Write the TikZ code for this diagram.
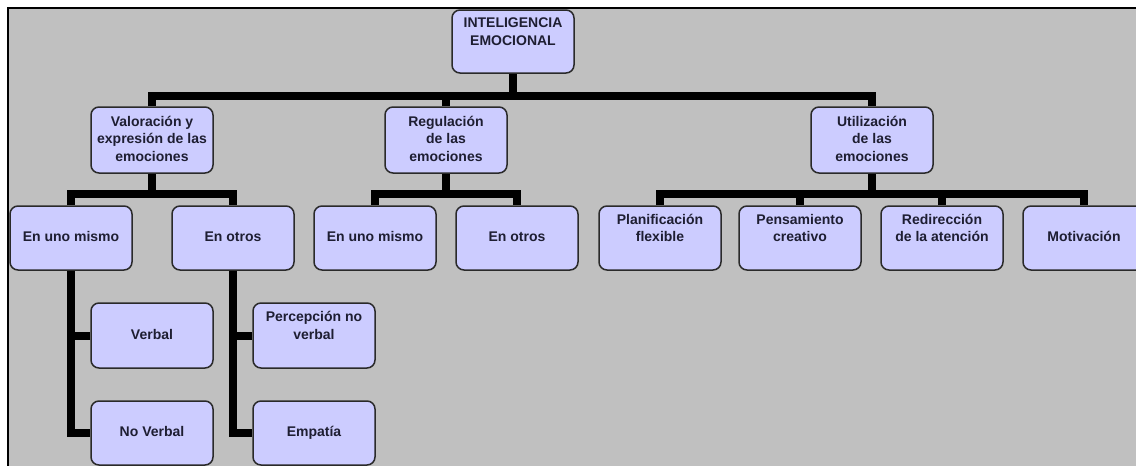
\documentclass[tikz,border=0pt]{standalone}
\usepackage{fontspec}
\setmainfont{Liberation Sans}
\usetikzlibrary{backgrounds}
\definecolor{bggrey}{HTML}{C0C0C0}
\definecolor{boxfill}{HTML}{CCCCFF}
\definecolor{boxline}{HTML}{2A2A2A}
\definecolor{txt}{HTML}{1E1E32}
\newcommand{\twol}[2]{\strut #1\\\strut #2\\\strut}
\newcommand{\threel}[3]{\strut #1\\\strut #2\\\strut #3}
\begin{document}
\begin{tikzpicture}[x=1pt,y=-1pt,
  box/.style={draw=boxline, line width=1.5pt, fill=boxfill, rounded corners=8pt,
    minimum width=122pt, minimum height=64pt, inner sep=0pt, align=center,
    text=txt, font=\bfseries\fontsize{14}{17.5}\selectfont},
  conn/.style={line width=8pt, draw=black, line join=miter}]
\useasboundingbox (0,0) rectangle (1136,466);
\begin{scope}[on background layer]
  \fill[white] (0,0) rectangle (1136,466);
  \fill[bggrey] (8,8) rectangle (1140,470);
  \draw[line width=2pt] (8,470) -- (8,8) -- (1140,8);
\end{scope}
\coordinate (bar1) at (0,96);
\coordinate (bar2) at (0,194);
% root
\node[box, minimum height=63pt] (r) at (513,41.5) {\twol{INTELIGENCIA}{EMOCIONAL}};
% level 2
\node[box, minimum height=66pt] (va) at (152,140) {\threel{Valoración y}{expresión de las}{emociones}};
\node[box, minimum height=66pt] (re) at (446,140) {\threel{Regulación}{de las}{emociones}};
\node[box, minimum height=66pt] (ut) at (872,140) {\threel{Utilización}{de las}{emociones}};
% level 3
\node[box] (a1) at (71,238) {\strut En uno mismo};
\node[box] (a2) at (233,238) {\strut En otros};
\node[box] (b1) at (375,238) {\strut En uno mismo};
\node[box] (b2) at (517,238) {\strut En otros};
\node[box] (c1) at (660,238) {\twol{Planificación}{flexible}};
\node[box] (c2) at (800,238) {\twol{Pensamiento}{creativo}};
\node[box] (c3) at (942,238) {\twol{Redirección}{de la atención}};
\node[box] (c4) at (1084,238) {\strut Motivación};
% level 4
\node[box, minimum height=65pt] (d1) at (152,335.5) {\strut Verbal};
\node[box] (d2) at (152,433) {\strut No Verbal};
\node[box, minimum height=65pt] (e1) at (314,335.5) {\twol{Percepción no}{verbal}};
\node[box] (e2) at (314,433) {\strut Empatía};
% connectors
\begin{scope}[on background layer]
  \draw[conn] (r.south) -- (r.south |- bar1);
  \draw[conn] (va.north) |- (ut.north |- bar1) -- (ut.north);
  \draw[conn] (re.north) -- (re.north |- bar1);
  \draw[conn] (va.south) -- (va.south |- bar2);
  \draw[conn] (a1.north) |- (a2.north |- bar2) -- (a2.north);
  \draw[conn] (re.south) -- (re.south |- bar2);
  \draw[conn] (b1.north) |- (b2.north |- bar2) -- (b2.north);
  \draw[conn] (ut.south) -- (ut.south |- bar2);
  \draw[conn] (c1.north) |- (c4.north |- bar2) -- (c4.north);
  \draw[conn] (c2.north) -- (c2.north |- bar2);
  \draw[conn] (c3.north) -- (c3.north |- bar2);
  \draw[conn] (a1.south) |- (d2.west);
  \draw[conn] (d1.west) -- (d1.west -| a1.south);
  \draw[conn] (a2.south) |- (e2.west);
  \draw[conn] (e1.west) -- (e1.west -| a2.south);
\end{scope}
\end{tikzpicture}
\end{document}
